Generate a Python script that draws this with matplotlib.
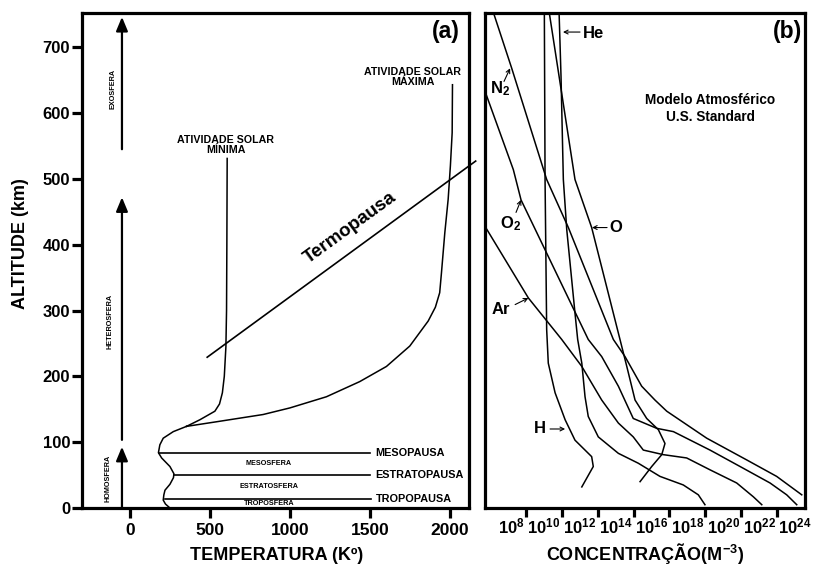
import numpy as np
import matplotlib
matplotlib.use('Agg')
import matplotlib.pyplot as plt
from matplotlib.ticker import NullLocator

plt.rcParams['font.family'] = ['Liberation Sans', 'DejaVu Sans']
plt.rcParams['font.weight'] = 'bold'
plt.rcParams['axes.labelweight'] = 'bold'
plt.rcParams['mathtext.fontset'] = 'custom'
plt.rcParams['mathtext.rm'] = 'Liberation Sans:bold'
plt.rcParams['mathtext.bf'] = 'Liberation Sans:bold'
plt.rcParams['mathtext.it'] = 'Liberation Sans:bold'

# (a) temperatura x altitude
T_low = [250, 222, 208, 212, 219, 250, 272, 275, 250, 198, 178, 187, 208, 271, 354]
alt_low = [0, 6, 12, 20, 27, 36, 46, 52, 63, 76, 84, 96, 106, 116, 124]
T_min = [354, 437, 531, 560, 578, 590, 600, 604, 606, 608]
alt_min = [124, 134, 147, 158, 175, 200, 245, 300, 400, 531]
T_max = [354, 542, 833, 1000, 1229, 1437, 1604, 1750, 1865, 1910, 1937, 1948, 1969, 1990, 2004, 2015, 2017]
alt_max = [124, 131, 142, 152, 169, 192, 215, 246, 284, 305, 327, 357, 418, 469, 520, 570, 643]
termo_T = [483, 2162]
termo_alt = [229, 527]

pausas = ['MESOPAUSA', 'ESTRATOPAUSA', 'TROPOPAUSA']
pausa_alt = [84, 50, 13.5]
pausa_T0 = [180, 275, 220]
pausa_T1 = [1500, 1500, 1510]
camadas = ['MESOSFERA', 'ESTRATOSFERA', 'TROPOSFERA']
camada_alt = [68, 32, 7]
esferas = ['HOMOSFERA', 'HETEROSFERA', 'EXOSFERA']
esfera_base = [0, 103.5, 545]
esfera_topo = [93, 472, 746]
esfera_txt_T = [-135, -125, -106]
esfera_txt_alt = [45, 284, 636]

# (b) log10 da concentracao (m^-3) x altitude
alt_N2 = [755, 668, 499, 426, 256, 230, 185, 164, 147, 106, 73, 48, 20]
log_N2 = [6.15, 7.20, 9.15, 10.36, 12.87, 13.52, 14.45, 15.19, 15.85, 18.08, 20.31, 21.98, 23.38]
alt_O2 = [630, 514, 468, 256, 230, 185, 136, 121, 116, 88, 63, 38, 20, 5]
log_O2 = [5.75, 7.29, 7.72, 11.47, 12.22, 13.15, 13.98, 15.29, 16.22, 18.26, 19.94, 21.61, 22.54, 23.10]
alt_Ar = [426, 319, 256, 215, 164, 129, 108, 88, 81, 76, 58, 38, 17, 5]
log_Ar = [5.75, 8.13, 9.99, 11.11, 12.22, 13.15, 13.98, 14.54, 15.66, 16.96, 18.26, 19.75, 20.68, 21.15]
alt_He = [755, 656, 499, 423, 296, 256, 220, 169, 139, 108, 83, 68, 48, 35, 20, 5]
log_He = [9.84, 9.95, 10.08, 10.27, 10.73, 10.88, 11.11, 11.29, 11.47, 12.03, 13.15, 14.26, 15.47, 16.77, 17.61, 17.98]
alt_O = [755, 499, 426, 256, 215, 164, 136, 119, 98, 81, 63, 40]
log_O = [9.28, 10.73, 11.66, 13.24, 13.62, 14.08, 14.73, 15.38, 15.75, 15.57, 15.01, 14.36]
alt_H = [755, 499, 271, 220, 175, 134, 103, 78, 63, 32]
log_H = [9.02, 9.06, 9.15, 9.24, 9.62, 10.18, 10.73, 11.66, 11.75, 11.11]

expoentes = [8, 10, 12, 14, 16, 18, 20, 22, 24]

rotulos = ['He', 'N$_2$', 'O$_2$', 'O', 'Ar', 'H']
rotulo_pos = [(11.79, 721), (6.55, 637), (7.11, 432), (13.02, 426), (6.61, 301), (8.78, 120)]
seta_de = [(11.01, 723), (6.77, 648), (7.44, 449), (12.52, 426), (7.39, 309), (9.34, 120)]
seta_para = [(10.06, 723), (7.11, 668), (7.72, 468), (11.68, 426), (8.13, 319), (10.18, 120)]


fig = plt.figure(figsize=(8.15, 5.66), dpi=100)
ax1 = fig.add_axes([0.1006, 0.1025, 0.4748, 0.8746])
ax2 = fig.add_axes([0.5951, 0.1025, 0.3926, 0.8746])

for ax in (ax1, ax2):
    for s in ax.spines.values():
        s.set_linewidth(2.3)
    ax.set_ylim(0, 752)

# ---- painel (a)
ax1.plot(T_low, alt_low, color='k', lw=1.1)
ax1.plot(T_min, alt_min, color='k', lw=1.1)
ax1.plot(T_max, alt_max, color='k', lw=1.1)
ax1.plot(termo_T, termo_alt, color='k', lw=1.2, clip_on=False)

for nome, a, t0, t1 in zip(pausas, pausa_alt, pausa_T0, pausa_T1):
    ax1.plot([t0, t1], [a, a], color='k', lw=1.2)
    ax1.text(1537, a, nome, fontsize=7.8, ha='left', va='center')

for nome, a in zip(camadas, camada_alt):
    ax1.text(869, a, nome, fontsize=5.2, ha='center', va='center')

for nome, b, t, tx, ty in zip(esferas, esfera_base, esfera_topo, esfera_txt_T, esfera_txt_alt):
    ax1.annotate('', xy=(-50, t), xytext=(-50, b),
                 arrowprops=dict(arrowstyle='-|>,head_length=0.6,head_width=0.25',
                                 lw=1.6, color='k', shrinkA=0, shrinkB=0, mutation_scale=14))
    ax1.text(tx, ty, nome, fontsize=5.2, rotation=90, ha='center', va='center')

ax1.text(600, 551, 'ATIVIDADE SOLAR\nMÍNIMA', fontsize=7.7, ha='center', va='center', linespacing=1.0)
ax1.text(1769, 654, 'ATIVIDADE SOLAR\nMÁXIMA', fontsize=7.7, ha='center', va='center', linespacing=1.0)
ax1.text(1375, 426, 'Termopausa', fontsize=13.5, rotation=36, rotation_mode='anchor',
         ha='center', va='center')
ax1.text(0.977, 0.962, '(a)', transform=ax1.transAxes, ha='right', va='center', fontsize=16.5)

ax1.set_xlim(-300, 2120)
ax1.set_xticks([0, 500, 1000, 1500, 2000])
ax1.set_yticks(range(0, 701, 100))
ax1.tick_params(axis='x', direction='out', length=7, width=2.3, labelsize=12.5, pad=3.5)
ax1.tick_params(axis='y', direction='out', length=7.5, width=2.3, labelsize=12, pad=1)
ax1.set_xlabel('TEMPERATURA (Kº)', fontsize=13, fontweight='bold')
ax1.xaxis.set_label_coords(0.5026, -0.078)
ax1.set_ylabel('ALTITUDE (km)', fontsize=13, fontweight='bold')
ax1.yaxis.set_label_coords(-0.137, 0.535)

# ---- painel (b)
ax2.set_xscale('log')
for lg, al in [(log_N2, alt_N2), (log_O2, alt_O2), (log_Ar, alt_Ar),
               (log_He, alt_He), (log_O, alt_O), (log_H, alt_H)]:
    ax2.plot(10 ** np.array(lg), al, color='k', lw=1.1)

for txt, p, de, para in zip(rotulos, rotulo_pos, seta_de, seta_para):
    ax2.text(10 ** p[0], p[1], txt, fontsize=12, ha='center', va='center')
    ax2.annotate('', xy=(10 ** para[0], para[1]), xytext=(10 ** de[0], de[1]),
                 arrowprops=dict(arrowstyle='->', lw=0.8, color='k',
                                 shrinkA=0, shrinkB=0, mutation_scale=7))

ax2.text(0.703, 0.807, 'Modelo Atmosférico\nU.S. Standard', transform=ax2.transAxes,
         fontsize=9.8, ha='center', va='center', linespacing=1.2)
ax2.text(0.99, 0.962, '(b)', transform=ax2.transAxes, ha='right', va='center', fontsize=16.5)

ax2.set_xlim(10 ** 5.71, 10 ** 23.56)
ax2.set_xticks([10.0 ** e for e in expoentes[:-1]])
ax2.xaxis.set_minor_locator(NullLocator())
ax2.set_xticklabels([])
ax2.set_yticks([])
ax2.tick_params(axis='x', direction='out', length=6.5, width=2.3)
for e in expoentes:
    ax2.annotate(r'$\mathbf{10^{%d}}$' % e, xy=(10.0 ** e, 0), xycoords=('data', 'axes fraction'),
                 xytext=(-1, -18.5), textcoords='offset points', ha='right', va='baseline',
                 fontsize=12, annotation_clip=False)
ax2.set_xlabel('CONCENTRAÇÃO(M$^{-3}$)', fontsize=13, fontweight='bold')
ax2.xaxis.set_label_coords(0.5, -0.066)

fig.savefig('out.png', dpi=100)
